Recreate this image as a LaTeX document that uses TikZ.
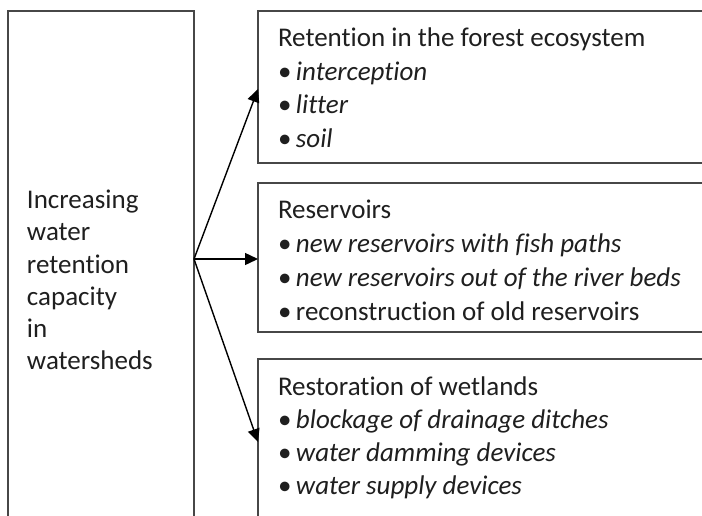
\documentclass[tikz,border=0pt]{standalone}
\usepackage{fontspec}
\setmainfont[Ligatures=NoCommon]{Carlito}
\usetikzlibrary{arrows.meta,calc}
\begin{document}
\begin{tikzpicture}[x=1pt,y=1pt,
  box/.style={draw=black!72,line width=1.4pt,fill=none,inner sep=0pt,outer sep=0pt,anchor=north west},
  txt/.style={anchor=base west,inner sep=0pt,outer sep=0pt,text=black!88,font=\fontsize{27}{32}\selectfont},
  arr/.style={draw=black,line width=1.4pt,-{Triangle[length=13pt,width=12pt]}}]
\useasboundingbox (0,0) rectangle (702,-515);
\clip (0,0) rectangle (702,-515);
\fill[white] (0,0) rectangle (702,-515);
% boxes
\node[box,minimum width=186pt,minimum height=540pt] (L) at (8,-11) {};
\node[box,minimum width=480pt,minimum height=152pt] (b1) at (258,-11) {};
\node[box,minimum width=480pt,minimum height=149pt] (b2) at (258,-183) {};
\node[box,minimum width=480pt,minimum height=167pt] (b3) at (258,-359) {};
% left text
\node[txt] (l1) at (27,-208) {Increasing};
\node[txt] (l2) at (27,-240) {water};
\node[txt] (l3) at (27,-273) {retention};
\node[txt] (l4) at (27,-305) {capacity};
\node[txt] (l5) at (27,-337) {in};
\node[txt] (l6) at (27,-369) {watersheds};
% box 1
\node[txt] (t1) at (278,-46) {Retention in the forest ecosystem};
\node[txt] (t1a) at (278,-80) {•\,\textit{interception}};
\node[txt] (t1b) at (278,-113) {•\,\textit{litter}};
\node[txt] (t1c) at (278,-147) {•\,\textit{soil}};
% box 2
\node[txt] (t2) at (278,-218) {Reservoirs};
\node[txt] (t2a) at (278,-252) {•\,\textit{new reservoirs with fish paths}};
\node[txt] (t2b) at (278,-286) {•\,\textit{new reservoirs out of the river beds}};
\node[txt] (t2c) at (278,-320) {•\,reconstruction of old reservoirs};
% box 3
\node[txt] (t3) at (278,-395) {Restoration of wetlands};
\node[txt] (t3a) at (278,-428) {•\,\textit{blockage of drainage ditches}};
\node[txt] (t3b) at (278,-461) {•\,\textit{water damming devices}};
\node[txt] (t3c) at (278,-494) {•\,\textit{water supply devices}};
% connectors
\coordinate (src) at (L.east |- 0,-259);
\coordinate (e1) at (b1.west |- 0,-89);
\coordinate (e2) at (b2.west |- 0,-259);
\coordinate (e3) at (b3.west |- 0,-442);
\draw[arr] (src) -- (e1);
\draw[arr] (src) -- (e2);
\draw[arr] (src) -- (e3);
\end{tikzpicture}
\end{document}
